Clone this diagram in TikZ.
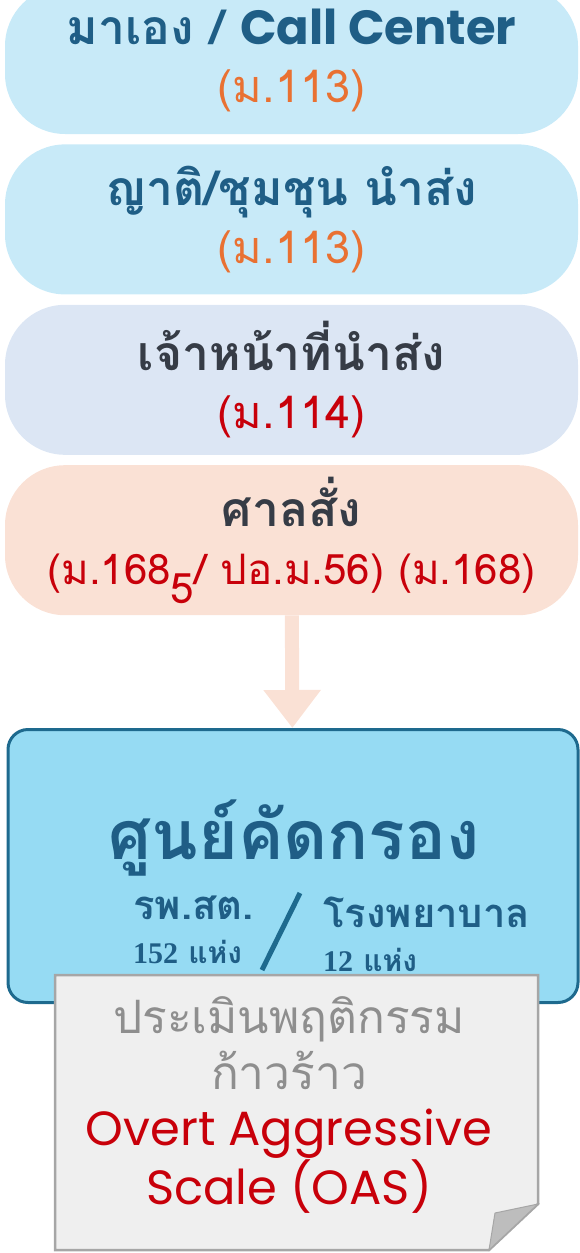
\documentclass[tikz,border=0pt]{standalone}
\usepackage{fontspec}
\setmainfont{Loma}[Script=Thai]
\newfontfamily\latfont{Poppins}
\newfontfamily\serfont{Liberation Serif}
\usepackage{tikz}
\usetikzlibrary{positioning,arrows.meta}
\definecolor{skyfill}{HTML}{C8EAF8}
\definecolor{lavfill}{HTML}{DCE6F4}
\definecolor{peachfill}{HTML}{FAE1D5}
\definecolor{hubfill}{HTML}{96DBF3}
\definecolor{hubline}{HTML}{1E6A8E}
\definecolor{deepblue}{HTML}{1F5E86}
\definecolor{inkgray}{HTML}{363C46}
\definecolor{tangerine}{HTML}{E97132}
\definecolor{lawred}{HTML}{C8000A}
\definecolor{notefill}{HTML}{EFEFEF}
\definecolor{notegray}{HTML}{A6A6A6}
\definecolor{foldgray}{HTML}{BDBDBD}
\definecolor{softgray}{HTML}{8E8E8E}

\begin{document}
\begin{tikzpicture}[x=1pt,y=-1pt,
    pill/.style={rounded corners=60pt, minimum width=573pt, minimum height=150pt,
      inner sep=0pt, align=center, font=\fontsize{48}{58}\selectfont},
    hub/.style={rounded corners=20pt, minimum width=570pt, minimum height=273pt,
      fill=hubfill, draw=hubline, line width=3pt},
    place/.style={anchor=west, align=left, inner sep=0pt, text=deepblue,
      font=\fontsize{40}{44}\selectfont\bfseries},
    flowarrow/.style={peachfill, line width=14pt, -{Triangle[width=55pt,length=38pt]}}]
    \useasboundingbox (0,0) rectangle (580,1253);
    \node[pill, fill=skyfill, minimum height=148pt] (self) at (291.5,60)
      {\textcolor{deepblue}{\bfseries มาเอง / {\latfont Call Center}}\\
       \textcolor{tangerine}{\fontsize{45}{58}\selectfont(ม.113)}};
    \node[pill, fill=skyfill, below=10pt of self] (kin)
      {\textcolor{deepblue}{\bfseries ญาติ/ชุมชุน นำส่ง}\\
       \textcolor{tangerine}{\fontsize{45}{58}\selectfont(ม.113)}};
    \node[pill, fill=lavfill, below=10pt of kin] (duty)
      {\textcolor{inkgray}{\bfseries เจ้าหน้าที่นำส่ง}\\
       \textcolor{lawred}{\fontsize{45}{58}\selectfont(ม.114)}};
    \node[pill, fill=peachfill, below=10pt of duty] (court)
      {\textcolor{inkgray}{\bfseries ศาลสั่ง}\\
       \textcolor{lawred}{\fontsize{42}{58}\selectfont(ม.168\raisebox{-0.45em}{5}/ ปอ.ม.56) (ม.168)}};
    \node[hub] (screen) at (293,866) {};
    \draw[flowarrow] (court) -- (screen);
    \node[text=deepblue, font=\fontsize{68}{68}\selectfont\bfseries] (hubtitle) at (294,838) {ศูนย์คัดกรอง};
    \node[place] (pcu) at (133,930)
      {รพ.สต.\\{\fontsize{30}{30}\selectfont{\serfont 152} แห่ง}};
    \node[place] (hosp) at (323,934)
      {โรงพยาบาล\\{\fontsize{30}{30}\selectfont{\serfont 12} แห่ง}};
    \draw[hubline, line width=5pt] (300,893) -- (262,970);
    \filldraw[fill=notefill, draw=notegray, line width=2.5pt]
      (55,975) -- (538,975) -- (538,1204) -- (489,1250) -- (55,1250) -- cycle;
    \filldraw[fill=foldgray, draw=notegray, line width=1pt]
      (538,1204) -- (495,1213) -- (489,1250) -- cycle;
    \node[align=center, font=\fontsize{46}{56}\selectfont] (oas) at (289,1105)
      {\textcolor{softgray}{ประเมินพฤติกรรม}\\
       \textcolor{softgray}{ก้าวร้าว}\\
       \textcolor{lawred}{\latfont\fontsize{48}{56}\selectfont Overt Aggressive}\\
       \textcolor{lawred}{\latfont\fontsize{48}{56}\selectfont Scale (OAS)}};
  \end{tikzpicture}
\end{document}
